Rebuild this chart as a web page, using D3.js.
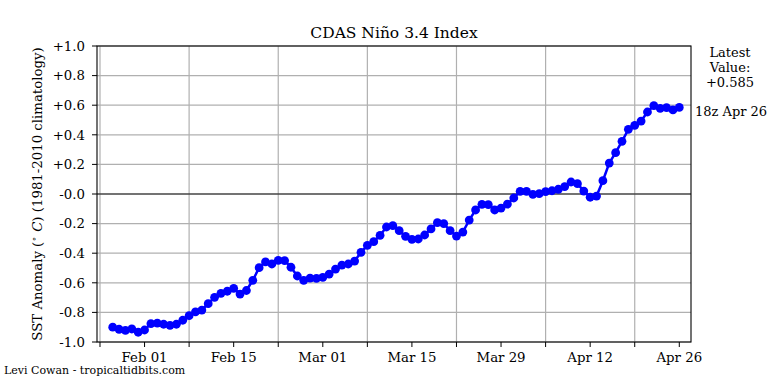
<!DOCTYPE html>
<html><head><meta charset="utf-8">
<script src="https://cdn.jsdelivr.net/npm/d3@7"></script>
<style>
body{margin:0;background:#fff;}
svg text{font-family:"DejaVu Serif",serif;fill:#000;}
</style></head>
<body><svg id="c" width="768" height="384"></svg>
<script>
const startDate = "2023-01-27";
const values = [
 -0.900,-0.914,-0.921,-0.912,-0.934,-0.919,-0.876,-0.872,-0.880,-0.887,
 -0.880,-0.853,-0.822,-0.797,-0.784,-0.741,-0.698,-0.671,-0.657,-0.637,
 -0.676,-0.652,-0.583,-0.498,-0.459,-0.473,-0.448,-0.450,-0.495,-0.554,
 -0.583,-0.568,-0.570,-0.563,-0.541,-0.507,-0.480,-0.473,-0.453,-0.394,
 -0.347,-0.322,-0.279,-0.223,-0.214,-0.248,-0.286,-0.306,-0.304,-0.277,
 -0.236,-0.194,-0.200,-0.248,-0.284,-0.257,-0.176,-0.108,-0.070,-0.072,
 -0.108,-0.095,-0.068,-0.027, 0.018, 0.018,-0.002, 0.002, 0.016, 0.022,
  0.032, 0.050, 0.081, 0.070, 0.020,-0.022,-0.014, 0.090, 0.209, 0.279,
  0.356, 0.437, 0.464, 0.493, 0.554, 0.597, 0.579, 0.583, 0.568, 0.585];
const xLabelDates = ["2023-02-01","2023-02-15","2023-03-01","2023-03-15","2023-03-29","2023-04-12","2023-04-26"];
const xLabels = ["Feb 01","Feb 15","Mar 01","Mar 15","Mar 29","Apr 12","Apr 26"];
const xGridDates = ["2023-01-25","2023-02-08","2023-02-22","2023-03-08","2023-03-22","2023-04-05","2023-04-19"];
const yTicks = [1.0,0.8,0.6,0.4,0.2,0.0,-0.2,-0.4,-0.6,-0.8,-1.0];
const yTickLabels = ["+1.0","+0.8","+0.6","+0.4","+0.2","-0.0","-0.2","-0.4","-0.6","-0.8","-1.0"];
const title = "CDAS Niño 3.4 Index";
const latestLines = ["Latest","Value:","+0.585"];
const latestTime = "18z Apr 26";
const credit = "Levi Cowan - tropicaltidbits.com";

const parse = d3.utcParse("%Y-%m-%d");
const t0 = parse(startDate);
const data = values.map((v,i)=>({date:d3.utcDay.offset(t0,i), v}));
const tEnd = data[data.length-1].date;

const L=97,R=691,T=46,B=342;
const svg = d3.select("#c");
const x = d3.scaleUtc()
  .domain([new Date(+t0 - 2.47*864e5), new Date(+tEnd + 1.84*864e5)])
  .range([L,R]);
const y = d3.scaleLinear().domain([-1,1]).range([B,T]);

// grid
const g = svg.append("g");
g.selectAll(".gx").data(xGridDates.map(parse)).join("line")
  .attr("x1",d=>x(d)).attr("x2",d=>x(d)).attr("y1",T).attr("y2",B)
  .attr("stroke","#b0b0b0").attr("stroke-width",1.2);
g.selectAll(".gy").data(yTicks.filter(d=>d!==0)).join("line")
  .attr("x1",L).attr("x2",R).attr("y1",d=>y(d)).attr("y2",d=>y(d))
  .attr("stroke","#b0b0b0").attr("stroke-width",1.2);
g.append("line").attr("x1",L).attr("x2",R).attr("y1",y(0)).attr("y2",y(0))
  .attr("stroke","#444").attr("stroke-width",1.5);

// data
const line = d3.line().x(d=>x(d.date)).y(d=>y(d.v));
svg.append("path").datum(data).attr("d",line)
  .attr("fill","none").attr("stroke","#0000ff").attr("stroke-width",2.5);
svg.append("g").selectAll("circle").data(data).join("circle")
  .attr("cx",d=>x(d.date)).attr("cy",d=>y(d.v)).attr("r",4.4).attr("fill","#0000ff");

// frame
svg.append("rect").attr("x",L).attr("y",T).attr("width",R-L).attr("height",B-T)
  .attr("fill","none").attr("stroke","#000").attr("stroke-width",1.1);

// y axis
const ya = svg.append("g");
ya.selectAll("line").data(yTicks).join("line")
  .attr("x1",L-5).attr("x2",L).attr("y1",d=>y(d)).attr("y2",d=>y(d)).attr("stroke","#000");
ya.selectAll("text").data(yTicks).join("text")
  .attr("x",L-12).attr("y",d=>y(d)).attr("dy","0.36em").attr("text-anchor","end")
  .attr("font-size","13.3px").text((d,i)=>yTickLabels[i]);

// x axis
const xa = svg.append("g");
xa.selectAll("line.g").data(xGridDates.map(parse)).join("line")
  .attr("x1",d=>x(d)).attr("x2",d=>x(d)).attr("y1",B).attr("y2",B+5).attr("stroke","#000");
xa.selectAll("line.l").data(xLabelDates.map(parse)).join("line")
  .attr("x1",d=>x(d)).attr("x2",d=>x(d)).attr("y1",B).attr("y2",B+5).attr("stroke","#000");
xa.selectAll("text").data(xLabelDates.map(parse)).join("text")
  .attr("x",d=>x(d)).attr("y",B+20).attr("text-anchor","middle")
  .attr("font-size","13.3px").text((d,i)=>xLabels[i]);

// title
svg.append("text").attr("x",(L+R)/2).attr("y",38).attr("text-anchor","middle")
  .attr("font-size","15.5px").text(title);

// y label
const yl = svg.append("text").attr("transform",`translate(42,${(T+B)/2}) rotate(-90)`)
  .attr("text-anchor","middle").attr("font-size","13.3px");
yl.append("tspan").text("SST Anomaly (");
yl.append("tspan").attr("font-size","9px").attr("dy","-5").attr("font-family","DejaVu Sans").text("∘");
yl.append("tspan").attr("dy","5").attr("font-style","italic").text(" C");
yl.append("tspan").text(") (1981-2010 climatology)");

// right annotations
svg.append("g").selectAll("text").data(latestLines).join("text")
  .attr("x",730).attr("y",(d,i)=>57+i*15).attr("text-anchor","middle")
  .attr("font-size","13px").text(d=>d);
svg.append("text").attr("x",695).attr("y",116).attr("font-size","13px").text(latestTime);

svg.append("text").attr("x",4).attr("y",374).attr("font-size","11px").text(credit);
</script></body></html>
